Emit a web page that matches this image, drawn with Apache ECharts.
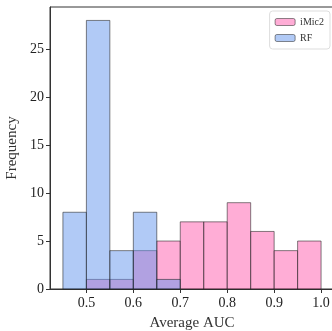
<!DOCTYPE html>
<html>
<head>
<meta charset="utf-8">
<script src="https://cdn.jsdelivr.net/npm/echarts@6/dist/echarts.min.js"></script>
<style>
  html, body { margin: 0; padding: 0; background: #fff; }
  #chart { width: 332px; height: 331px; }
</style>
</head>
<body>
<div id="chart"></div>
<script>
// histogram bins (width 0.05)
const binEdges = [0.45, 0.5, 0.55, 0.6, 0.65, 0.7, 0.75, 0.8, 0.85, 0.9, 0.95, 1.0];
const iMic2Counts = [0, 1, 1, 4, 5, 7, 7, 9, 6, 4, 5];
const rfCounts = [8, 28, 4, 8, 1, 0, 0, 0, 0, 0, 0];
const xTicks = [0.5, 0.6, 0.7, 0.8, 0.9, 1.0];
const yTicks = [0, 5, 10, 15, 20, 25];

const serif = 'Liberation Serif';

function toBins(counts) {
  const out = [];
  counts.forEach((c, i) => {
    if (c > 0) out.push([binEdges[i], binEdges[i + 1], c]);
  });
  return out;
}

function histSeries(name, counts, fill) {
  return {
    name: name,
    type: 'custom',
    data: toBins(counts),
    encode: {x: [0, 1], y: 2},
    itemStyle: {color: fill},
    renderItem(params, api) {
      const p0 = api.coord([api.value(0), 0]);
      const p1 = api.coord([api.value(1), api.value(2)]);
      return {
        type: 'rect',
        shape: {x: p0[0], y: p1[1], width: p1[0] - p0[0], height: p0[1] - p1[1]},
        style: {fill: fill, stroke: 'rgba(30,30,30,0.55)', lineWidth: 1}
      };
    }
  };
}

const myChart = echarts.init(document.getElementById('chart'), null, {renderer: 'canvas'});
myChart.setOption({
  animation: false,
  textStyle: {fontFamily: serif},
  grid: {
    left: 50, top: 7, right: -2, bottom: 42,
    outerBoundsMode: 'none',
    containLabel: false,
    show: true, borderColor: '#333', borderWidth: 1
  },
  legend: {
    right: 2, top: 11,
    orient: 'vertical',
    itemWidth: 20, itemHeight: 7, itemGap: 6,
    padding: [6, 6, 6, 5],
    backgroundColor: '#fff',
    borderColor: '#ddd', borderWidth: 1, borderRadius: 3,
    textStyle: {fontFamily: serif, fontSize: 10, color: '#333'},
    data: [
      {name: 'iMic2', itemStyle: {color: 'rgba(255,105,180,0.55)', borderColor: 'rgba(30,30,30,0.5)', borderWidth: 1}},
      {name: 'RF', itemStyle: {color: 'rgba(100,149,237,0.5)', borderColor: 'rgba(30,30,30,0.5)', borderWidth: 1}}
    ]
  },
  xAxis: {
    type: 'value',
    min: 0.4225, max: 1.0275,
    name: 'Average AUC',
    nameLocation: 'middle',
    nameGap: 27,
    nameTextStyle: {fontFamily: serif, fontSize: 15, color: '#333'},
    splitLine: {show: false},
    axisLine: {show: true, onZero: false, lineStyle: {color: '#333'}},
    axisTick: {show: true, length: 4, lineStyle: {color: '#333'}, customValues: xTicks},
    axisLabel: {
      fontFamily: serif, fontSize: 14, color: '#222', margin: 7,
      customValues: xTicks,
      formatter: v => v.toFixed(1)
    }
  },
  yAxis: {
    type: 'value',
    min: 0, max: 29.4,
    name: 'Frequency',
    nameLocation: 'middle',
    nameGap: 25,
    nameTextStyle: {fontFamily: serif, fontSize: 15, color: '#333'},
    splitLine: {show: false},
    axisLine: {show: true, lineStyle: {color: '#333'}},
    axisTick: {show: true, length: 4, lineStyle: {color: '#333'}, customValues: yTicks},
    axisLabel: {fontFamily: serif, fontSize: 14, color: '#222', margin: 6, customValues: yTicks}
  },
  series: [
    histSeries('iMic2', iMic2Counts, 'rgba(255,105,180,0.55)'),
    histSeries('RF', rfCounts, 'rgba(100,149,237,0.5)')
  ]
});
</script>
</body>
</html>
